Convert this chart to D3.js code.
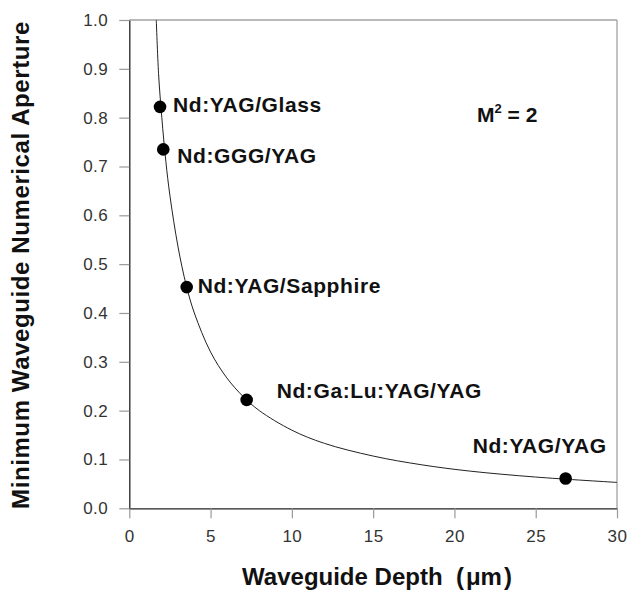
<!DOCTYPE html>
<html><head><meta charset="utf-8">
<script src="https://cdn.jsdelivr.net/npm/d3@7"></script>
<style>body{margin:0;background:#fff}svg{display:block}text{font-family:"Liberation Sans",Arial,sans-serif;white-space:pre}</style>
</head><body><svg id="c" width="628" height="590"></svg>
<script>
// Curve
const curveDepth = [1.66, 1.8, 2.0, 2.25, 2.5, 3.0, 3.5, 4, 5, 6, 7, 8, 10, 12, 15, 18, 21, 25, 30];
const curveNA    = [1.0, 0.89, 0.80, 0.71, 0.64, 0.535, 0.457, 0.40, 0.32, 0.267, 0.229, 0.200, 0.160, 0.133, 0.107, 0.089, 0.076, 0.064, 0.053];
// Materials points
const materials = ["Nd:YAG/Glass", "Nd:GGG/YAG", "Nd:YAG/Sapphire", "Nd:Ga:Lu:YAG/YAG", "Nd:YAG/YAG"];
const pointDepth = [1.89, 2.09, 3.53, 7.22, 26.84];
const pointNA    = [0.822, 0.735, 0.453, 0.222, 0.061];
const xTicks = [0, 5, 10, 15, 20, 25, 30];
const yTicks = [0.0, 0.1, 0.2, 0.3, 0.4, 0.5, 0.6, 0.7, 0.8, 0.9, 1.0];

const svg = d3.select("#c");
const L = 129.3, R = 617, T = 20, B = 508.3;
const x = d3.scaleLinear().domain([0, 30]).range([L, R]);
const y = d3.scaleLinear().domain([0, 1]).range([B, T]);

// frame (top/right)
svg.append("line").attr("x1", L).attr("x2", R).attr("y1", T).attr("y2", T).attr("stroke", "#777").attr("stroke-width", 1.2);
svg.append("line").attr("x1", R).attr("x2", R).attr("y1", T).attr("y2", B).attr("stroke", "#999").attr("stroke-width", 1.2);

const xa = svg.append("g").attr("transform", `translate(0,${B})`)
  .call(d3.axisBottom(x).tickValues(xTicks).tickSize(10).tickSizeOuter(0).tickPadding(12).tickFormat(d3.format("d")));
const ya = svg.append("g").attr("transform", `translate(${L},0)`)
  .call(d3.axisLeft(y).tickValues(yTicks).tickSize(10).tickSizeOuter(0).tickPadding(11).tickFormat(d3.format(".1f")));
[xa, ya].forEach(g => {
  g.select(".domain").attr("stroke", "#222").attr("stroke-width", 1.3);
  g.selectAll(".tick line").attr("stroke", "#999").attr("stroke-width", 1.2);
  g.selectAll(".tick text").attr("fill", "#333").style("font-size", "17px").style("letter-spacing", "0.5px").style("font-family", '"Liberation Sans",Arial,sans-serif');
});
xa.selectAll(".tick text").attr("dy", "0.71em");

// curve
const line = d3.line().x((d, i) => x(curveDepth[i])).y(d => y(d)).curve(d3.curveCatmullRom);
svg.append("path").attr("d", line(curveNA)).attr("fill", "none").attr("stroke", "#222").attr("stroke-width", 1);

// points
svg.selectAll("circle.pt").data(pointNA).enter().append("circle")
  .attr("cx", (d, i) => x(pointDepth[i])).attr("cy", d => y(d)).attr("r", 6.3).attr("fill", "#000");

// labels (offsets in px from point)
const labelOffsets = [[13, 5], [14, 14], [11, 6], [30, -2], [-93, -26]];
svg.selectAll("text.lbl").data(materials).enter().append("text")
  .attr("x", (d, i) => x(pointDepth[i]) + labelOffsets[i][0])
  .attr("y", (d, i) => y(pointNA[i]) + labelOffsets[i][1])
  .attr("font-size", 21).attr("font-weight", "bold").attr("fill", "#111")
  .style("letter-spacing", "0.6px").text(d => d);

// M^2 = 2
const m = svg.append("text").attr("x", 477).attr("y", 122).attr("font-size", 21).attr("font-weight", "bold").attr("fill", "#111");
m.append("tspan").text("M");
m.append("tspan").attr("dy", -9).attr("font-size", 13).text("2");
m.append("tspan").attr("dy", 9).text(" = 2");

// axis titles
const xt = svg.append("text").attr("x", 377).attr("y", 585).attr("text-anchor", "middle")
  .attr("font-size", 24).attr("font-weight", "bold").attr("fill", "#111");
xt.append("tspan").text("Waveguide Depth  (");
xt.append("tspan").attr("dx", 2).text("\u03bcm");
xt.append("tspan").attr("dx", 2).text(")");
svg.append("text").attr("transform", "translate(29,265) rotate(-90)").attr("text-anchor", "middle")
  .attr("font-size", 24).attr("font-weight", "bold").attr("fill", "#111")
  .style("letter-spacing", "0.6px")
  .text("Minimum Waveguide Numerical Aperture");
</script></body></html>
